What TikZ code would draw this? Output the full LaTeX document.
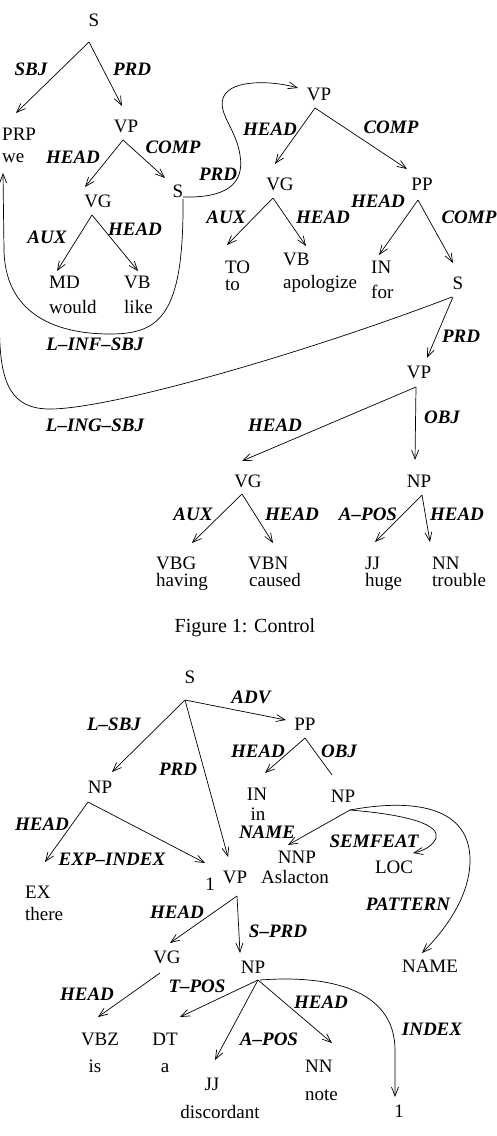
\documentclass[tikz,border=0pt]{standalone}
\usepackage{fontspec}
\setmainfont{Liberation Serif}
\usetikzlibrary{arrows.meta,calc}
\tikzset{
  txt/.style={inner sep=0pt, font=\fontsize{19}{22}\selectfont},
  lab/.style={inner sep=0pt, font=\fontsize{19}{22}\selectfont\bfseries\itshape},
  capt/.style={inner sep=0pt, font=\fontsize{20}{24}\selectfont},
  ln/.style={line width=0.7pt},
  arr/.style={line width=0.7pt, -{Straight Barb[length=9pt,width=7pt,line width=0.7pt]}},
}
\begin{document}
\begin{tikzpicture}[x=1pt,y=-1pt]
\useasboundingbox (0,0) rectangle (496,1136);
\clip (0,0) rectangle (496,1136);

% ================= Figure 1 =================
\node[txt,anchor=base] (S1) at (94,26) {S};
\node[txt,anchor=base west] (PRP) at (2,140) {PRP};
\node[txt,anchor=base west] (we) at (2,162) {we};
\node[txt,anchor=base] (VP1) at (126,132) {VP};
\node[txt,anchor=base] (VG1) at (98,207) {VG};
\node[txt,anchor=base] (S2) at (178,197) {S};
\node[txt,anchor=base west] (MD) at (49,288) {MD};
\node[txt,anchor=base west] (would) at (49,313) {would};
\node[txt,anchor=base west] (VBa) at (124,288) {VB};
\node[txt,anchor=base west] (like) at (124,313) {like};
\node[txt,anchor=base] (VP2) at (319,100) {VP};
\node[txt,anchor=base] (VG2) at (280,190) {VG};
\node[txt,anchor=base] (PP1) at (422,190) {PP};
\node[txt,anchor=base west] (TO) at (225,273) {TO};
\node[txt,anchor=base west] (to) at (225,290) {to};
\node[txt,anchor=base west] (VBb) at (283,265) {VB};
\node[txt,anchor=base west] (apologize) at (283,288) {apologize};
\node[txt,anchor=base west] (IN1) at (371,273) {IN};
\node[txt,anchor=base west] (for) at (371,298) {for};
\node[txt,anchor=base] (S3) at (458,289) {S};
\node[txt,anchor=base] (VP3) at (419,378) {VP};
\node[txt,anchor=base] (VG3) at (248,487) {VG};
\node[txt,anchor=base] (NP1) at (419,487) {NP};
\node[txt,anchor=base west] (VBG) at (156,569) {VBG};
\node[txt,anchor=base west] (having) at (156,586) {having};
\node[txt,anchor=base west] (VBN) at (248,569) {VBN};
\node[txt,anchor=base west] (caused) at (249,586) {caused};
\node[txt,anchor=base west] (JJ1) at (365,569) {JJ};
\node[txt,anchor=base west] (huge) at (365,586) {huge};
\node[txt,anchor=base west] (NN1) at (432,569) {NN};
\node[txt,anchor=base west] (trouble) at (432,586) {trouble};
\node[capt,anchor=base] (cap) at (245,632) {Figure 1: Control};

% labels figure 1
\node[lab,anchor=base] (l1) at (31,75) {SBJ};
\node[lab,anchor=base] (l2) at (132,75) {PRD};
\node[lab,anchor=base] (l3) at (73,163) {HEAD};
\node[lab,anchor=base] (l4) at (173,153) {COMP};
\node[lab,anchor=base] (l5) at (218,180) {PRD};
\node[lab,anchor=base] (l6) at (47,243) {AUX};
\node[lab,anchor=base] (l7) at (135,235) {HEAD};
\node[lab,anchor=base] (l8) at (95,350) {L--INF--SBJ};
\node[lab,anchor=base] (l9) at (270,135) {HEAD};
\node[lab,anchor=base] (l10) at (391,133) {COMP};
\node[lab,anchor=base] (l11) at (226,223) {AUX};
\node[lab,anchor=base] (l12) at (323,223) {HEAD};
\node[lab,anchor=base] (l13) at (378,207) {HEAD};
\node[lab,anchor=base] (l14) at (469,223) {COMP};
\node[lab,anchor=base] (l15) at (461,342) {PRD};
\node[lab,anchor=base] (l16) at (442,423) {OBJ};
\node[lab,anchor=base] (l17) at (275,431) {HEAD};
\node[lab,anchor=base] (l18) at (95,431) {L--ING--SBJ};
\node[lab,anchor=base] (l19) at (193,520) {AUX};
\node[lab,anchor=base] (l20) at (292,520) {HEAD};
\node[lab,anchor=base] (l21) at (368,520) {A--POS};
\node[lab,anchor=base] (l22) at (457,520) {HEAD};

% connectors figure 1
\draw[arr] ($(S1.base)+(-5,16)$) -- ($(PRP.base west)+(14,-27)$);
\draw[arr] ($(S1.base)+(-5,16)$) -- ($(VP1.base)+(-4,-26)$);
\draw[arr] ($(VP1.base)+(-3,8)$) -- ($(VG1.base)+(-13,-20)$);
\draw[arr] ($(VP1.base)+(-3,8)$) -- ($(S2.base)+(-13,-19)$);
\draw[arr] ($(VG1.base)+(-6,8)$) -- ($(MD.base west)+(8,-17)$);
\draw[arr] ($(VG1.base)+(-6,8)$) -- ($(VBa.base west)+(14,-17)$);
\draw[arr] ($(VP2.base)+(-4,8)$) -- ($(VG2.base)+(-5,-26)$);
\draw[arr] ($(VP2.base)+(-4,8)$) -- ($(PP1.base)+(-15,-21)$);
\draw[arr] ($(VG2.base)+(-7,8)$) -- ($(TO.base west)+(2,-28)$);
\draw[arr] ($(VG2.base)+(-7,8)$) -- ($(VBb.base west)+(23,-19)$);
\draw[arr] ($(PP1.base)+(-4,10)$) -- ($(IN1.base west)+(8,-18)$);
\draw[arr] ($(PP1.base)+(-4,10)$) -- ($(S3.base)+(-5,-26)$);
\draw[arr] ($(S3.base)+(-5,8)$) -- ($(VP3.base)+(8,-20)$);
\draw[arr] ($(VP3.base)+(-3,9)$) -- ($(VG3.base)+(-6,-26)$);
\draw[arr] ($(VP3.base)+(-3,9)$) -- ($(NP1.base)+(-4,-27)$);
\draw[arr] ($(VG3.base)+(-6,7)$) -- ($(VBG.base west)+(36,-26)$);
\draw[arr] ($(VG3.base)+(-6,7)$) -- ($(VBN.base west)+(25,-26)$);
\draw[arr] ($(NP1.base)+(3,8)$) -- ($(JJ1.base west)+(10,-27)$);
\draw[arr] ($(NP1.base)+(3,8)$) -- ($(NN1.base west)+(-2,-27)$);
% PRD curve S -> VP
\draw[arr] ($(S2.base)+(5,0)$) .. controls (225,198) and (245,185) .. (240,155)
  .. controls (236,128) and (216,112) .. (224,96)
  .. controls (232,80) and (270,80) .. ($(VP2.base)+(-21,-12)$);
% L-INF-SBJ curve S -> we
\draw[arr] ($(S2.base)+(5,2)$) .. controls (184,315) and (160,334) .. (110,334)
  .. controls (50,334) and (5,310) .. (4,250) -- ($(we.base west)+(1,11)$);
% L-ING-SBJ curve
\draw[ln] ($(S3.base)+(-6,8)$) .. controls (300,355) and (110,409) .. (50,409)
  .. controls (12,409) and (0,385) .. (-0.5,330) -- (-4,200);

% ================= Figure 2 =================
\node[txt,anchor=base] (S4) at (190,683) {S};
\node[txt,anchor=base] (NP2) at (100,793) {NP};
\node[txt,anchor=base] (PP2) at (305,730) {PP};
\node[txt,anchor=base] (IN2) at (257,800) {IN};
\node[txt,anchor=base] (in) at (258,820) {in};
\node[txt,anchor=base] (NP3) at (343,802) {NP};
\node[txt,anchor=base] (NNP) at (297,863) {NNP};
\node[txt,anchor=base] (Aslacton) at (295,883) {Aslacton};
\node[txt,anchor=base] (LOC) at (394,873) {LOC};
\node[txt,anchor=base west] (EX) at (25,898) {EX};
\node[txt,anchor=base west] (there) at (25,920) {there};
\node[txt,anchor=base] (one1) at (210,890) {1};
\node[txt,anchor=base] (VP4) at (235,883) {VP};
\node[txt,anchor=base] (VG4) at (167,963) {VG};
\node[txt,anchor=base] (NP4) at (253,973) {NP};
\node[txt,anchor=base] (NAME) at (430,972) {NAME};
\node[txt,anchor=base] (VBZ) at (100,1045) {VBZ};
\node[txt,anchor=base] (is) at (95,1072) {is};
\node[txt,anchor=base] (DT) at (165,1045) {DT};
\node[txt,anchor=base] (a) at (165,1072) {a};
\node[txt,anchor=base] (JJ2) at (212,1090) {JJ};
\node[txt,anchor=base] (discordant) at (220,1118) {discordant};
\node[txt,anchor=base west] (NN2) at (305,1072) {NN};
\node[txt,anchor=base west] (note) at (305,1100) {note};
\node[txt,anchor=base] (one2) at (399,1117) {1};

% labels figure 2
\node[lab,anchor=base] (m1) at (114,730) {L--SBJ};
\node[lab,anchor=base] (m2) at (178,775) {PRD};
\node[lab,anchor=base] (m3) at (251,703) {ADV};
\node[lab,anchor=base] (m4) at (258,757) {HEAD};
\node[lab,anchor=base] (m5) at (339,757) {OBJ};
\node[lab,anchor=base] (m6) at (42,830) {HEAD};
\node[lab,anchor=base] (m7) at (112,865) {EXP--INDEX};
\node[lab,anchor=base] (m8) at (267,838) {NAME};
\node[lab,anchor=base] (m9) at (374,847) {SEMFEAT};
\node[lab,anchor=base] (m10) at (408,910) {PATTERN};
\node[lab,anchor=base] (m11) at (177,918) {HEAD};
\node[lab,anchor=base] (m12) at (278,937) {S--PRD};
\node[lab,anchor=base] (m13) at (87,1000) {HEAD};
\node[lab,anchor=base] (m14) at (197,992) {T--POS};
\node[lab,anchor=base] (m15) at (321,1008) {HEAD};
\node[lab,anchor=base] (m16) at (269,1045) {A--POS};
\node[lab,anchor=base] (m17) at (432,1035) {INDEX};

% connectors figure 2
\draw[arr] ($(S4.base)+(-5,17)$) -- ($(NP2.base)+(12,-21)$);
\draw[arr] ($(S4.base)+(-5,17)$) -- ($(VP4.base)+(-7,-26)$);
\draw[arr] ($(S4.base)+(-5,17)$) -- ($(PP2.base)+(-19,-10)$);
\draw[arr] ($(PP2.base)+(0,8)$) -- ($(IN2.base)+(8,-27)$);
\draw[ln] ($(PP2.base)+(0,8)$) -- ($(NP3.base)+(-11,-27)$);
\draw[arr] ($(NP2.base)+(-12,9)$) -- ($(EX.base west)+(20,-36)$);
\draw[arr] ($(NP2.base)+(-12,9)$) -- ($(one1.base)+(-5,-27)$);
\draw[arr] ($(NP3.base)+(7,8)$) -- ($(NNP.base)+(-9,-18)$);
\draw[arr] ($(NP3.base)+(7,8)$) .. controls (410,815) and (440,825) .. (436,838)
  .. controls (433,846) and (423,851) .. ($(LOC.base)+(19,-20)$);
\draw[arr] ($(NP3.base)+(7,8)$) .. controls (420,797) and (470,810) .. (470,860)
  .. controls (470,900) and (440,935) .. ($(NAME.base)+(-8,-19)$);
\draw[arr] ($(VP4.base)+(2,13)$) -- ($(VG4.base)+(3,-20)$);
\draw[arr] ($(VP4.base)+(2,13)$) -- ($(NP4.base)+(-13,-20)$);
\draw[arr] ($(VG4.base)+(-7,10)$) -- ($(VBZ.base)+(-2,-28)$);
\draw[arr] ($(NP4.base)+(5,7)$) -- ($(DT.base)+(15,-28)$);
\draw[arr] ($(NP4.base)+(5,7)$) -- ($(JJ2.base)+(3,-30)$);
\draw[arr] ($(NP4.base)+(5,7)$) -- ($(NN2.base west)+(27,-29)$);
\draw[arr] ($(NP4.base)+(7,7)$) .. controls (340,974) and (395,995) .. (395,1050)
  -- ($(one2.base)+(-4,-20)$);
\end{tikzpicture}
\end{document}
